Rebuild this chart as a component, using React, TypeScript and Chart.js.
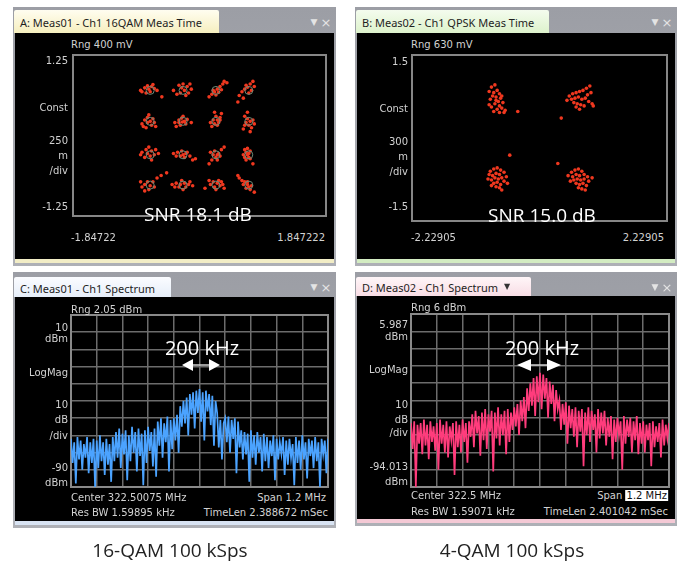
import React, { useEffect, useRef } from "react";
import { Chart, registerables } from "chart.js";

Chart.register(...registerables);

// ---------------- data ----------------
const CAPTIONS = ["16-QAM 100 kSps", "4-QAM 100 kSps"];

// Panel A : 16QAM constellation
const QAM16_X_RANGE = [-1.84722, 1.847222];
const QAM16_Y_RANGE = [-1.25, 1.25];
const QAM16_X_LABELS = ["-1.84722", "1.847222"];
const QAM16_Y_LABELS = ["1.25", "-1.25"];
const QAM16_IDEAL: [number, number][] = [
  [-0.72, 0.7], [-0.24, 0.7], [0.24, 0.7], [0.72, 0.7],
  [-0.72, 0.22], [-0.24, 0.22], [0.24, 0.22], [0.72, 0.22],
  [-0.72, -0.3], [-0.24, -0.3], [0.24, -0.3], [0.72, -0.3],
  [-0.72, -0.77], [-0.24, -0.77], [0.24, -0.77], [0.72, -0.77],
];
const QAM16_POINTS: [number, number][] = [
  [-0.86, 0.7], [-0.8, 0.74], [-0.76, 0.77], [-0.7, 0.76], [-0.66, 0.73], [-0.72, 0.68], [-0.78, 0.66], [-0.62, 0.7], [-0.84, 0.68], [-0.68, 0.79], [-0.55, 0.6], [-0.74, 0.72],
  [-0.38, 0.7], [-0.3, 0.78], [-0.24, 0.8], [-0.18, 0.76], [-0.22, 0.7], [-0.16, 0.66], [-0.28, 0.66], [-0.2, 0.62], [-0.12, 0.72], [-0.26, 0.74], [-0.33, 0.64], [-0.14, 0.8],
  [0.14, 0.6], [0.18, 0.64], [0.22, 0.68], [0.26, 0.72], [0.3, 0.76], [0.34, 0.8], [0.28, 0.67], [0.2, 0.7], [0.36, 0.84], [0.24, 0.63], [0.32, 0.71], [0.4, 0.82],
  [0.58, 0.62], [0.62, 0.68], [0.66, 0.72], [0.7, 0.75], [0.74, 0.8], [0.78, 0.84], [0.72, 0.66], [0.64, 0.58], [0.76, 0.7], [0.68, 0.78], [0.56, 0.52], [0.8, 0.76],
  [-0.84, 0.18], [-0.8, 0.24], [-0.76, 0.28], [-0.72, 0.22], [-0.7, 0.16], [-0.78, 0.12], [-0.66, 0.2], [-0.74, 0.32], [-0.68, 0.26], [-0.82, 0.14], [-0.64, 0.14], [-0.76, 0.2],
  [-0.36, 0.2], [-0.3, 0.24], [-0.26, 0.27], [-0.22, 0.22], [-0.28, 0.16], [-0.2, 0.18], [-0.34, 0.14], [-0.24, 0.3], [-0.12, 0.2], [-0.3, 0.2], [-0.18, 0.25], [-0.25, 0.21],
  [0.18, 0.14], [0.22, 0.18], [0.26, 0.24], [0.3, 0.28], [0.24, 0.3], [0.2, 0.24], [0.28, 0.2], [0.32, 0.34], [0.16, 0.2], [0.26, 0.16], [0.22, 0.36], [0.3, 0.24],
  [0.66, 0.3], [0.7, 0.26], [0.74, 0.22], [0.72, 0.16], [0.76, 0.12], [0.68, 0.2], [0.64, 0.1], [0.78, 0.24], [0.7, 0.36], [0.74, 0.06], [0.66, 0.16], [0.8, 0.18],
  [-0.84, -0.26], [-0.78, -0.22], [-0.74, -0.18], [-0.7, -0.24], [-0.66, -0.3], [-0.72, -0.32], [-0.8, -0.34], [-0.76, -0.28], [-0.64, -0.22], [-0.86, -0.3], [-0.7, -0.38], [-0.6, -0.28],
  [-0.38, -0.28], [-0.32, -0.26], [-0.26, -0.24], [-0.2, -0.28], [-0.14, -0.32], [-0.28, -0.32], [-0.22, -0.34], [-0.1, -0.38], [-0.34, -0.32], [-0.18, -0.26], [-0.06, -0.36], [-0.24, -0.3],
  [0.16, -0.26], [0.2, -0.3], [0.24, -0.34], [0.28, -0.28], [0.32, -0.22], [0.26, -0.38], [0.22, -0.24], [0.36, -0.18], [0.18, -0.38], [0.3, -0.32], [0.14, -0.44], [0.26, -0.3],
  [0.66, -0.22], [0.68, -0.26], [0.7, -0.3], [0.72, -0.34], [0.66, -0.34], [0.74, -0.24], [0.68, -0.38], [0.7, -0.2], [0.78, -0.44], [0.72, -0.28], [0.64, -0.3], [0.74, -0.36],
  [-0.84, -0.8], [-0.8, -0.76], [-0.76, -0.72], [-0.72, -0.78], [-0.68, -0.72], [-0.62, -0.66], [-0.56, -0.62], [-0.48, -0.58], [-0.8, -0.86], [-0.74, -0.84], [-0.66, -0.8], [-0.86, -0.72],
  [-0.4, -0.76], [-0.34, -0.74], [-0.28, -0.76], [-0.22, -0.74], [-0.16, -0.76], [-0.1, -0.78], [-0.3, -0.8], [-0.2, -0.8], [-0.26, -0.7], [-0.14, -0.72], [-0.36, -0.8], [-0.24, -0.84],
  [0.08, -0.82], [0.16, -0.76], [0.2, -0.72], [0.26, -0.74], [0.3, -0.78], [0.34, -0.76], [0.22, -0.8], [0.28, -0.7], [0.36, -0.82], [0.14, -0.7], [0.24, -0.84], [0.32, -0.72],
  [0.58, -0.66], [0.62, -0.7], [0.66, -0.72], [0.7, -0.76], [0.72, -0.8], [0.74, -0.84], [0.68, -0.82], [0.64, -0.76], [0.76, -0.78], [0.7, -0.72], [0.56, -0.62], [0.8, -0.88],
];

// Panel B : QPSK constellation
const QPSK_X_RANGE = [-2.22905, 2.22905];
const QPSK_Y_RANGE = [-1.5, 1.5];
const QPSK_X_LABELS = ["-2.22905", "2.22905"];
const QPSK_Y_LABELS = ["1.5", "-1.5"];
const QPSK_POINTS: [number, number][] = [
  [-0.84, 0.92], [-0.78, 0.96], [-0.88, 0.84], [-0.8, 0.82], [-0.74, 0.86], [-0.7, 0.8], [-0.82, 0.76], [-0.76, 0.74], [-0.68, 0.72], [-0.86, 0.7], [-0.72, 0.66], [-0.64, 0.64], [-0.78, 0.62], [-0.7, 0.58], [-0.84, 0.56], [-0.74, 0.52], [-0.66, 0.54], [-0.8, 0.48], [-0.7, 0.46], [-0.6, 0.5], [-0.88, 0.6], [-0.66, 0.76], [-0.76, 0.68], [-0.38, 0.48], [-0.62, 0.46],
  [0.52, 0.76], [0.58, 0.8], [0.64, 0.82], [0.7, 0.84], [0.76, 0.86], [0.82, 0.9], [0.88, 0.94], [0.56, 0.7], [0.62, 0.72], [0.68, 0.74], [0.74, 0.7], [0.8, 0.72], [0.86, 0.66], [0.92, 0.62], [0.6, 0.64], [0.66, 0.62], [0.72, 0.6], [0.78, 0.58], [0.7, 0.52], [0.64, 0.56], [0.84, 0.78], [0.9, 0.82], [0.48, 0.68], [0.94, 0.58], [0.38, 0.36],
  [-0.86, -0.6], [-0.8, -0.56], [-0.74, -0.54], [-0.68, -0.58], [-0.88, -0.66], [-0.82, -0.68], [-0.76, -0.64], [-0.7, -0.66], [-0.62, -0.62], [-0.9, -0.74], [-0.84, -0.76], [-0.78, -0.72], [-0.72, -0.74], [-0.66, -0.72], [-0.58, -0.7], [-0.8, -0.82], [-0.74, -0.8], [-0.68, -0.84], [-0.62, -0.78], [-0.76, -0.88], [-0.7, -0.9], [-0.84, -0.86], [-0.56, -0.82], [-0.52, -0.31], [-0.66, -0.94],
  [0.56, -0.62], [0.62, -0.58], [0.68, -0.56], [0.74, -0.6], [0.5, -0.68], [0.58, -0.7], [0.64, -0.66], [0.7, -0.68], [0.78, -0.66], [0.84, -0.7], [0.6, -0.76], [0.66, -0.74], [0.72, -0.76], [0.78, -0.74], [0.86, -0.78], [0.64, -0.82], [0.7, -0.84], [0.76, -0.82], [0.82, -0.86], [0.68, -0.9], [0.74, -0.92], [0.92, -0.72], [0.54, -0.78], [0.8, -0.94], [0.32, -0.46],
];

// Spectra (offset from centre, kHz; level dBm)
const SPEC_FREQ_START_KHZ = -600;
const SPEC_FREQ_STEP_KHZ = 7.5;
const SPEC_X_GRID_KHZ = [-600, -480, -360, -240, -120, 0, 120, 240, 360, 480, 600];

const SPEC_C_Y_GRID = [10, 0, -10, -20, -30, -40, -50, -60, -70, -80, -90];
const SPEC_C_DBM = [
  -62, -76, -64, -88, -61, -74, -63, -80, -65, -73, -61, -82, -64, -76, -62, -90, -63, -79, -60, -75, -64, -83, -62, -77, -65, -87, -61, -75,
  -58, -73, -56, -79, -59, -71, -57, -86, -60, -75, -55, -70, -58, -81, -56, -72, -59, -89, -57, -76, -55, -69, -58, -78, -56, -84,
  -52, -66, -50, -73, -53, -64, -49, -81, -51, -68, -50, -63, -48, -70,
  -43, -55, -40, -53, -38, -60, -36, -48, -35, -56, -34, -47, -33, -52, -35, -63, -34, -46, -36, -54, -37, -66, -40,
  -47, -67, -51, -74, -53,
  -50, -64, -49, -70, -51, -62, -50, -82, -52,
  -67, -57, -74, -58, -71, -59, -87, -57, -73, -60, -77, -58, -70, -61, -81, -59,
  -75, -61, -79, -63, -72, -60, -86, -62, -74, -64, -71, -61, -83, -63, -77, -62, -73, -65, -89, -61, -76, -63, -80, -60, -74, -64, -85, -62, -72, -63, -79, -61, -75, -64, -90, -62, -71, -63, -82, -62,
];

const SPEC_D_Y_GRID = [5.987, -4.013, -14.013, -24.013, -34.013, -44.013, -54.013, -64.013, -74.013, -84.013, -94.013];
const SPEC_D_DBM = [
  -57, -72, -56, -94, -58, -69, -57, -75, -55, -70, -58, -78, -56, -68, -59, -73, -57, -84, -55, -69, -58, -74, -56, -77, -59, -67, -57, -87, -56, -71, -58, -74, -55, -68, -57, -80, -56,
  -65, -52, -71, -50, -63, -53, -76, -51, -67, -49, -72, -52, -62, -50, -85, -51, -66, -48, -70, -52, -64, -50, -75, -49, -68, -51, -61, -48,
  -59, -46, -64, -44, -56, -42, -60,
  -37, -50, -34, -47, -31, -53, -30, -45, -28, -49, -29, -43, -31, -54, -33, -46, -35, -56, -38, -49,
  -44, -61, -46, -58, -45, -69, -47, -60,
  -49, -65, -48, -71, -50, -62, -49, -82, -51, -64, -48, -68, -50, -61, -52, -74, -49, -66, -51, -63, -50,
  -70, -54, -65, -53, -78, -55, -68, -54, -64, -56, -84, -53, -69, -55, -65, -54, -74, -56, -67, -53, -75,
  -57, -69, -56, -74, -58, -67, -57, -82, -56, -71, -59, -68, -57, -77, -55, -70, -58, -66, -57,
];

// ---------------- styling ----------------
const UI_FONT = '"DejaVu Sans", sans-serif';
const TAB_FONT = '"Noto Sans", sans-serif';
const BIG_FONT = '"Open Sans", sans-serif';
const LABEL_COLOR = "#d2d2d2";
const DOT_RED = "#f0381f";
const PAD = 3;

type Rect = { x: number; y: number; w: number; h: number };

const framePlugin = {
  id: "frame",
  beforeDatasetsDraw(chart: any, _args: any, opts: any) {
    const { ctx, chartArea: a } = chart;
    ctx.save();
    ctx.strokeStyle = opts.color || "#808080";
    ctx.lineWidth = opts.width || 2;
    ctx.strokeRect(a.left, a.top, a.right - a.left, a.bottom - a.top);
    ctx.restore();
  },
};

function PlotCanvas({ rect, makeConfig }: { rect: Rect; makeConfig: () => any }) {
  const ref = useRef<HTMLCanvasElement>(null);
  useEffect(() => {
    const chart = new Chart(ref.current as HTMLCanvasElement, makeConfig());
    return () => chart.destroy();
  }, []);
  const w = rect.w + 2 * PAD;
  const h = rect.h + 2 * PAD;
  return (
    <canvas
      ref={ref}
      width={w}
      height={h}
      style={{ position: "absolute", left: rect.x - PAD, top: rect.y - PAD, width: w, height: h, display: "block" }}
    />
  );
}

function constellationConfig(xr: number[], yr: number[], points: [number, number][], ideal?: [number, number][]) {
  const datasets: any[] = [];
  if (ideal) {
    datasets.push({
      data: ideal.map(([x, y]) => ({ x, y })),
      pointRadius: 4,
      pointBackgroundColor: "rgba(0,0,0,0)",
      pointBorderColor: "#6b8a77",
      pointBorderWidth: 1,
      showLine: false,
    });
  }
  datasets.push({
    data: points.map(([x, y]) => ({ x, y })),
    pointRadius: 1.8,
    pointBackgroundColor: DOT_RED,
    pointBorderWidth: 0,
    showLine: false,
  });
  return {
    type: "scatter",
    data: { datasets },
    options: {
      animation: false,
      responsive: false,
      events: [],
      layout: { padding: PAD },
      plugins: { legend: { display: false }, tooltip: { enabled: false }, frame: { color: "#868686", width: 2 } },
      scales: {
        x: { type: "linear", display: false, min: xr[0], max: xr[1] },
        y: { type: "linear", display: false, min: yr[0], max: yr[1] },
      },
    },
    plugins: [framePlugin],
  };
}

function spectrumConfig(values: number[], yGrid: number[], color: string) {
  const data = values.map((v, i) => ({ x: SPEC_FREQ_START_KHZ + SPEC_FREQ_STEP_KHZ * i, y: v }));
  const yMin = Math.min(...yGrid);
  const yMax = Math.max(...yGrid);
  const grid = { color: "#6c6c6c", lineWidth: 1.5, drawTicks: false };
  return {
    type: "line",
    data: {
      datasets: [
        { data, borderColor: color, borderWidth: 1.7, pointRadius: 0, tension: 0, fill: false },
      ],
    },
    options: {
      animation: false,
      responsive: false,
      events: [],
      layout: { padding: PAD },
      plugins: { legend: { display: false }, tooltip: { enabled: false }, frame: { color: "#8a8a8a", width: 2 } },
      scales: {
        x: {
          type: "linear",
          min: SPEC_X_GRID_KHZ[0],
          max: SPEC_X_GRID_KHZ[SPEC_X_GRID_KHZ.length - 1],
          grid,
          ticks: { display: false },
          border: { display: false },
          afterBuildTicks: (s: any) => {
            s.ticks = SPEC_X_GRID_KHZ.map((v) => ({ value: v }));
          },
        },
        y: {
          type: "linear",
          min: yMin,
          max: yMax,
          grid,
          ticks: { display: false },
          border: { display: false },
          afterBuildTicks: (s: any) => {
            s.ticks = yGrid.map((v) => ({ value: v }));
          },
        },
      },
    },
    plugins: [framePlugin],
  };
}

function Txt({
  x, y, a = "l", s = 10, c = LABEL_COLOR, f = UI_FONT, children, style,
}: any) {
  const tx = a === "l" ? "0" : a === "r" ? "-100%" : "-50%";
  return (
    <div
      style={{
        position: "absolute", left: x, top: y, transform: `translate(${tx}, -50%)`,
        fontFamily: f, fontSize: s, color: c, lineHeight: 1, whiteSpace: "nowrap", ...style,
      }}
    >
      {children}
    </div>
  );
}

function Chrome({ fx, fy, fw, fh, tabTop, tabW, blackTop, blackBottom, tabBg, bandBg, title, mark }: any) {
  return (
    <>
      <div style={{ position: "absolute", left: fx, top: fy, width: fw, height: fh, background: "linear-gradient(#9c9ea5, #aeb0b6)" }} />
      <div style={{ position: "absolute", left: fx + 1, top: tabTop, width: tabW, height: blackTop - tabTop, background: tabBg, borderRadius: "2px 2px 0 0" }} />
      <Txt x={fx + 7} y={(tabTop + blackTop) / 2 + 0.5} s={11} c="#1e1e1e" f={TAB_FONT}>{title}</Txt>
      {mark ? <Txt x={mark} y={(tabTop + blackTop) / 2} s={8} c="#333">▼</Txt> : null}
      <Txt x={fx + fw - 22} y={(tabTop + blackTop) / 2} s={9} c="#e4e4e4" a="c">▼</Txt>
      <Txt x={fx + fw - 10} y={(tabTop + blackTop) / 2} s={13} c="#e4e4e4" a="c">×</Txt>
      <div style={{ position: "absolute", left: fx + 2, top: blackTop, width: fw - 4, height: blackBottom - blackTop, background: "#000" }} />
      <div style={{ position: "absolute", left: fx + 2, top: blackBottom, width: fw - 4, height: 4, background: bandBg }} />
    </>
  );
}

const RECT_A: Rect = { x: 71, y: 53, w: 257, h: 165 };
const RECT_B: Rect = { x: 411, y: 54, w: 257, h: 168 };
const RECT_C: Rect = { x: 71, y: 315, w: 257, h: 172 };
const RECT_D: Rect = { x: 411, y: 314, w: 258, h: 173 };

function Arrow({ cx, y, half, head }: { cx: number; y: number; half: number; head: number }) {
  const l = cx - half;
  const r = cx + half;
  return (
    <g fill="#ffffff">
      <line x1={l + head} y1={y} x2={r - head} y2={y} stroke="#cfcfcf" strokeWidth={1.5} />
      <polygon points={`${l},${y} ${l + head},${y - 6} ${l + head},${y + 6}`} />
      <polygon points={`${r},${y} ${r - head},${y - 6} ${r - head},${y + 6}`} />
    </g>
  );
}

export default function App() {
  return (
    <div style={{ position: "absolute", left: 0, top: 0, width: 686, height: 565, background: "#ffffff", overflow: "hidden" }}>
      {/* Panel A */}
      <Chrome fx={13} fy={7} fw={323} fh={259} tabTop={10} tabW={205} blackTop={33} blackBottom={259}
        tabBg="linear-gradient(#fffdf0, #f6efbf)" bandBg="#f2edc6" title="A: Meas01 - Ch1 16QAM Meas Time" />
      <PlotCanvas rect={RECT_A} makeConfig={() => constellationConfig(QAM16_X_RANGE, QAM16_Y_RANGE, QAM16_POINTS, QAM16_IDEAL)} />
      <Txt x={71} y={45}>Rng 400 mV</Txt>
      <Txt x={68} y={61} a="r">{QAM16_Y_LABELS[0]}</Txt>
      <Txt x={68} y={108} a="r">Const</Txt>
      <Txt x={68} y={141} a="r">250</Txt>
      <Txt x={68} y={156} a="r">m</Txt>
      <Txt x={68} y={171} a="r">/div</Txt>
      <Txt x={68} y={207} a="r">{QAM16_Y_LABELS[1]}</Txt>
      <Txt x={71} y={238}>{QAM16_X_LABELS[0]}</Txt>
      <Txt x={325} y={238} a="r">{QAM16_X_LABELS[1]}</Txt>
      <Txt x={198} y={214} a="c" s={19} c="#ffffff" f={BIG_FONT}>SNR 18.1 dB</Txt>

      {/* Panel B */}
      <Chrome fx={355} fy={7} fw={322} fh={259} tabTop={10} tabW={193} blackTop={33} blackBottom={259}
        tabBg="linear-gradient(#f4fcee, #ddf2cc)" bandBg="#d3ecc2" title="B: Meas02 - Ch1 QPSK Meas Time" />
      <PlotCanvas rect={RECT_B} makeConfig={() => constellationConfig(QPSK_X_RANGE, QPSK_Y_RANGE, QPSK_POINTS)} />
      <Txt x={411} y={45}>Rng 630 mV</Txt>
      <Txt x={408} y={62} a="r">{QPSK_Y_LABELS[0]}</Txt>
      <Txt x={408} y={109} a="r">Const</Txt>
      <Txt x={408} y={142} a="r">300</Txt>
      <Txt x={408} y={157} a="r">m</Txt>
      <Txt x={408} y={172} a="r">/div</Txt>
      <Txt x={408} y={207} a="r">{QPSK_Y_LABELS[1]}</Txt>
      <Txt x={411} y={238}>{QPSK_X_LABELS[0]}</Txt>
      <Txt x={664} y={238} a="r">{QPSK_X_LABELS[1]}</Txt>
      <Txt x={542} y={215} a="c" s={19} c="#ffffff" f={BIG_FONT}>SNR 15.0 dB</Txt>

      {/* Panel C */}
      <Chrome fx={13} fy={272} fw={323} fh={256} tabTop={277} tabW={157} blackTop={297} blackBottom={521}
        tabBg="linear-gradient(#fbfcff, #e6eef9)" bandBg="#d8e3f2" title="C: Meas01 - Ch1 Spectrum" />
      <PlotCanvas rect={RECT_C} makeConfig={() => spectrumConfig(SPEC_C_DBM, SPEC_C_Y_GRID, "#4ba3ff")} />
      <Txt x={71} y={310}>Rng 2.05 dBm</Txt>
      <Txt x={68} y={328} a="r">10</Txt>
      <Txt x={68} y={339} a="r">dBm</Txt>
      <Txt x={68} y={373} a="r">LogMag</Txt>
      <Txt x={68} y={405} a="r">10</Txt>
      <Txt x={68} y={420} a="r">dB</Txt>
      <Txt x={68} y={436} a="r">/div</Txt>
      <Txt x={68} y={468} a="r">-90</Txt>
      <Txt x={68} y={483} a="r">dBm</Txt>
      <Txt x={71} y={498}>Center 322.50075 MHz</Txt>
      <Txt x={326} y={498} a="r">Span 1.2 MHz</Txt>
      <Txt x={71} y={513}>Res BW 1.59895 kHz</Txt>
      <Txt x={328} y={513} a="r">TimeLen 2.388672 mSec</Txt>
      <Txt x={202} y={348} a="c" s={20} c="#ffffff" f={BIG_FONT}>200 kHz</Txt>

      {/* Panel D */}
      <Chrome fx={355} fy={272} fw={322} fh={254} tabTop={277} tabW={175} blackTop={296} blackBottom={519}
        tabBg="linear-gradient(#fff6f8, #f8dde5)" bandBg="#f4c9d5" title="D: Meas02 - Ch1 Spectrum" mark={504} />
      <PlotCanvas rect={RECT_D} makeConfig={() => spectrumConfig(SPEC_D_DBM, SPEC_D_Y_GRID, "#ff3c7c")} />
      <Txt x={411} y={308}>Rng 6 dBm</Txt>
      <Txt x={408} y={325} a="r">5.987</Txt>
      <Txt x={408} y={337} a="r">dBm</Txt>
      <Txt x={408} y={370} a="r">LogMag</Txt>
      <Txt x={408} y={405} a="r">10</Txt>
      <Txt x={408} y={420} a="r">dB</Txt>
      <Txt x={408} y={433} a="r">/div</Txt>
      <Txt x={408} y={467} a="r">-94.013</Txt>
      <Txt x={408} y={482} a="r">dBm</Txt>
      <Txt x={411} y={496}>Center 322.5 MHz</Txt>
      <Txt x={668} y={496} a="r">
        Span <span style={{ background: "#ffffff", color: "#111", padding: "0 1px" }}>1.2 MHz</span>
      </Txt>
      <Txt x={411} y={512}>Res BW 1.59071 kHz</Txt>
      <Txt x={668} y={512} a="r">TimeLen 2.401042 mSec</Txt>
      <Txt x={542} y={348} a="c" s={20} c="#ffffff" f={BIG_FONT}>200 kHz</Txt>

      <svg width={686} height={565} style={{ position: "absolute", left: 0, top: 0, pointerEvents: "none" }}>
        <Arrow cx={201} y={365} half={19} head={11} />
        <Arrow cx={539} y={365} half={22} head={14} />
      </svg>

      <Txt x={170} y={550} a="c" s={19} c="#222" f={BIG_FONT}>{CAPTIONS[0]}</Txt>
      <Txt x={512} y={550} a="c" s={19} c="#222" f={BIG_FONT}>{CAPTIONS[1]}</Txt>
    </div>
  );
}
